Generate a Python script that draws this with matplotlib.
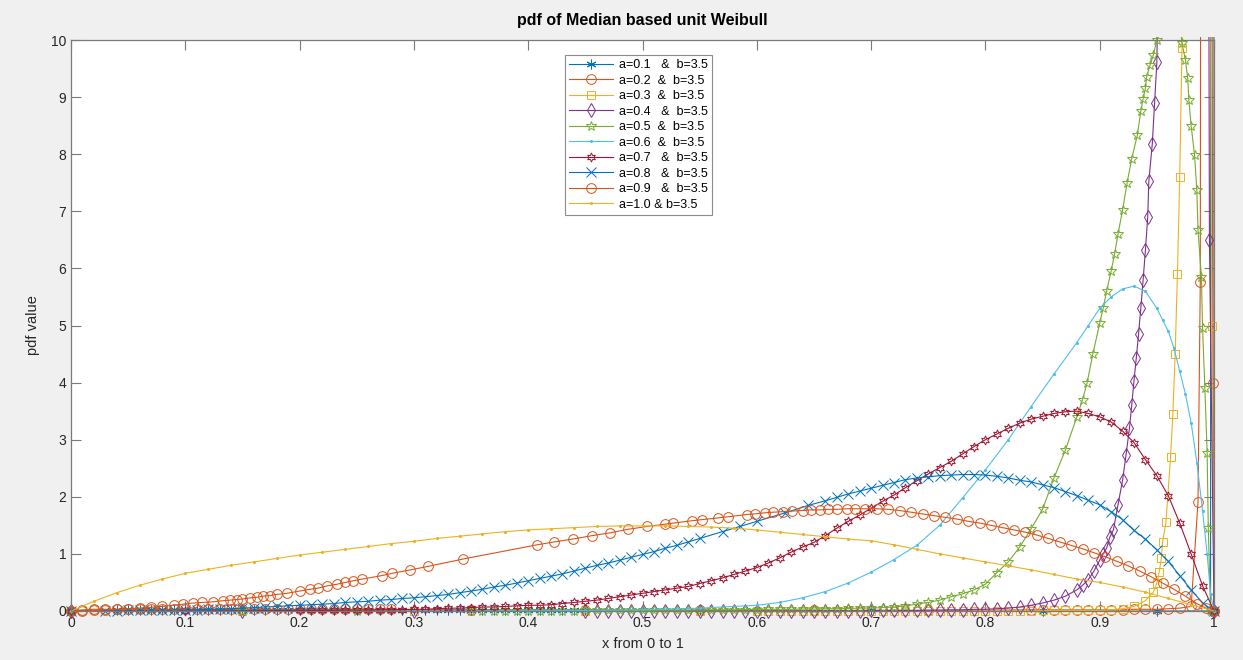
import matplotlib
matplotlib.use("Agg")
import matplotlib.pyplot as plt
from matplotlib.patches import Rectangle

# ---- data (x in [0,1], pdf value) ----
x01 = [0.0,
       0.04, 0.05, 0.06, 0.07, 0.08, 0.09, 0.10, 0.11, 0.12, 0.13,
       0.14, 0.15, 0.16, 0.17, 0.18, 0.19, 0.20, 0.21, 0.22, 0.23,
       0.24, 0.25, 0.26, 0.27, 0.28, 0.29, 0.30, 0.31, 0.32, 0.33,
       0.34, 0.35, 0.36, 0.37, 0.38, 0.39, 0.40, 0.41, 0.42, 0.43,
       0.44, 0.45,
       0.55, 0.70, 0.85, 0.95, 0.997, 0.9993, 1.0]
y01 = [0.0,
       0.01, 0.01, 0.01, 0.01, 0.02, 0.02, 0.02, 0.02, 0.02, 0.02,
       0.02, 0.02, 0.02, 0.02, 0.02, 0.02, 0.02, 0.02, 0.02, 0.02,
       0.02, 0.02, 0.02, 0.02, 0.02, 0.02, 0.02, 0.02, 0.02, 0.02,
       0.02, 0.02, 0.02, 0.02, 0.02, 0.02, 0.02, 0.02, 0.02, 0.02,
       0.02, 0.02,
       0.01, 0.01, 0.0, 0.0, 0.0, 250.0, 0.0]

x02 = [0.0, 0.01, 0.02, 0.03, 0.04, 0.05, 0.06, 0.07, 0.08, 0.09,
       0.10, 0.11, 0.12, 0.13, 0.14, 0.15, 0.16, 0.17, 0.18, 0.19,
       0.20, 0.21, 0.22, 0.23, 0.24, 0.25, 0.26, 0.27, 0.28,
       0.35, 0.45, 0.55, 0.65, 0.75,
       0.84, 0.85, 0.86, 0.87, 0.88, 0.89, 0.90, 0.91, 0.92, 0.93,
       0.94, 0.95, 0.96, 0.97, 0.98,
       0.986, 0.988, 0.992, 0.999, 1.0]
y02 = [0.0, 0.02, 0.03, 0.03, 0.03, 0.03, 0.03, 0.03, 0.03, 0.03,
       0.03, 0.03, 0.03, 0.03, 0.03, 0.03, 0.03, 0.03, 0.03, 0.03,
       0.03, 0.03, 0.03, 0.03, 0.03, 0.03, 0.03, 0.03, 0.03,
       0.01, 0.01, 0.01, 0.01, 0.01,
       0.02, 0.02, 0.02, 0.02, 0.02, 0.02, 0.02, 0.02, 0.02, 0.03,
       0.03, 0.03, 0.04, 0.05, 0.08,
       1.91, 5.76, 80.0, 4.0, 0.0]

x03 = [0.0, 0.15, 0.30, 0.45, 0.55,
       0.60, 0.61, 0.62, 0.63, 0.64, 0.65, 0.66, 0.67, 0.68, 0.69,
       0.70, 0.71, 0.72, 0.73, 0.74, 0.75, 0.76, 0.77, 0.78, 0.79,
       0.80, 0.81, 0.82, 0.83, 0.84, 0.85, 0.86, 0.87, 0.88, 0.89,
       0.90, 0.91, 0.92, 0.93, 0.94,
       0.947, 0.950, 0.952, 0.954, 0.955, 0.958, 0.962, 0.964, 0.966, 0.968,
       0.970, 0.972, 0.985, 0.998, 1.0]
y03 = [0.0, 0.0, 0.0, 0.0, 0.0,
       0.0, 0.0, 0.0, 0.0, 0.0, 0.0, 0.0, 0.0, 0.0, 0.0,
       0.0, 0.0, 0.0, 0.0, 0.0, 0.0, 0.0, 0.0, 0.0, 0.0,
       0.005, 0.005, 0.005, 0.005, 0.005, 0.01, 0.01, 0.01, 0.01, 0.01,
       0.01, 0.02, 0.04, 0.08, 0.18,
       0.33, 0.49, 0.68, 0.93, 1.21, 1.56, 2.7, 3.45, 4.5, 5.9,
       7.6, 9.86, 100.0, 5.0, 0.0]

x04 = [0.0, 0.15, 0.30,
       0.45, 0.46, 0.47, 0.48, 0.49, 0.50, 0.51, 0.52, 0.53, 0.54,
       0.55, 0.56, 0.57, 0.58, 0.59, 0.60, 0.61, 0.62, 0.63, 0.64,
       0.65, 0.66, 0.67, 0.68, 0.69, 0.70, 0.71, 0.72, 0.73, 0.74,
       0.75, 0.76, 0.77, 0.78,
       0.79, 0.80, 0.81, 0.82, 0.83, 0.84, 0.85, 0.86, 0.87, 0.88,
       0.885, 0.89, 0.895, 0.900, 0.903, 0.906, 0.909, 0.912, 0.916, 0.920,
       0.923, 0.926, 0.928, 0.930, 0.932, 0.934, 0.936, 0.938, 0.940, 0.942,
       0.943, 0.946, 0.948, 0.950, 0.99, 0.996, 1.0]
y04 = [0.0, 0.0, 0.0,
       0.0, 0.0, 0.0, 0.0, 0.0, 0.0, 0.0, 0.0, 0.0, 0.0,
       0.0, 0.0, 0.0, 0.0, 0.0, 0.0, 0.0, 0.0, 0.0, 0.0,
       0.005, 0.005, 0.005, 0.005, 0.005, 0.01, 0.01, 0.01, 0.01, 0.01,
       0.015, 0.015, 0.02, 0.02,
       0.03, 0.03, 0.04, 0.05, 0.07, 0.10, 0.14, 0.19, 0.26, 0.37,
       0.45, 0.55, 0.70, 0.89, 1.0, 1.1, 1.3, 1.42, 1.86, 2.29,
       2.73, 3.2, 3.6, 4.03, 4.43, 4.85, 5.31, 5.80, 6.32, 6.9,
       7.53, 8.18, 8.89, 9.61, 60.0, 6.5, 0.0]

x05 = [0.0, 0.15, 0.25,
       0.35, 0.36, 0.37, 0.38, 0.39, 0.40, 0.41, 0.42, 0.43, 0.44,
       0.45, 0.46, 0.47, 0.48, 0.49,
       0.50, 0.51, 0.52, 0.53, 0.54, 0.55, 0.56, 0.57, 0.58, 0.59,
       0.60, 0.61, 0.62, 0.63, 0.64, 0.65, 0.66, 0.67, 0.68, 0.69, 0.70,
       0.71, 0.72, 0.73, 0.74, 0.75, 0.76, 0.77, 0.78, 0.79, 0.80,
       0.81, 0.82, 0.83, 0.84, 0.85, 0.86, 0.87, 0.88,
       0.885, 0.889, 0.894, 0.900, 0.903, 0.906, 0.910, 0.913, 0.916, 0.920,
       0.924, 0.928, 0.933, 0.936, 0.938, 0.940, 0.941, 0.944, 0.947, 0.950,
       0.961, 0.972, 0.975, 0.977, 0.978, 0.980, 0.983, 0.985, 0.986, 0.989,
       0.990, 0.992, 0.994, 0.995, 0.997, 1.0]
y05 = [0.0, 0.0, 0.0,
       0.0, 0.0, 0.0, 0.0, 0.0, 0.0, 0.005, 0.005, 0.005, 0.005,
       0.01, 0.01, 0.01, 0.01, 0.01,
       0.01, 0.01, 0.015, 0.015, 0.015, 0.02, 0.02, 0.02, 0.02, 0.025,
       0.025, 0.03, 0.03, 0.03, 0.035, 0.035, 0.04, 0.04, 0.045, 0.05, 0.05,
       0.06, 0.07, 0.09, 0.12, 0.15, 0.19, 0.25, 0.30, 0.37, 0.47,
       0.67, 0.86, 1.12, 1.44, 1.78, 2.33, 2.82, 3.4,
       3.7, 4.0, 4.5, 5.04, 5.3, 5.6, 5.95, 6.25, 6.6, 7.02,
       7.5, 7.92, 8.34, 8.76, 8.97, 9.16, 9.35, 9.56, 9.74, 10.0,
       12.0, 9.95, 9.65, 9.33, 8.95, 8.5, 7.98, 7.37, 6.67, 5.85,
       4.96, 3.9, 2.77, 1.45, 0.0, 0.0]

x06 = [0.0, 0.1, 0.2, 0.3, 0.35, 0.4, 0.45, 0.5, 0.55, 0.6,
       0.62, 0.64, 0.66, 0.68, 0.70, 0.72, 0.74, 0.76, 0.78, 0.80,
       0.82, 0.84, 0.86, 0.88, 0.89, 0.90, 0.91, 0.92, 0.93, 0.94,
       0.95, 0.955, 0.96, 0.965, 0.97, 0.975, 0.98, 0.985, 0.99, 0.994,
       0.997, 1.0]
y06 = [0.0, 0.0, 0.0, 0.0, 0.0, 0.005, 0.01, 0.02, 0.05, 0.1,
       0.15, 0.23, 0.34, 0.49, 0.68, 0.9, 1.15, 1.5, 1.98, 2.47,
       3.0, 3.58, 4.15, 4.7, 5.0, 5.3, 5.5, 5.64, 5.69, 5.6,
       5.3, 5.1, 4.9, 4.6, 4.2, 3.8, 3.3, 2.6, 1.75, 1.0,
       0.3, 0.0]

x07 = [0.0, 0.1,
       0.20, 0.21, 0.22, 0.23, 0.24, 0.25, 0.26, 0.27, 0.28, 0.29,
       0.30, 0.31, 0.32, 0.33, 0.34, 0.35, 0.36, 0.37, 0.38, 0.39,
       0.40, 0.41, 0.42, 0.43, 0.44, 0.45, 0.46, 0.47, 0.48, 0.49,
       0.50, 0.51, 0.52, 0.53, 0.54, 0.55, 0.56, 0.57, 0.58, 0.59,
       0.60, 0.61, 0.62, 0.63, 0.64, 0.65, 0.66, 0.67, 0.68, 0.69,
       0.70, 0.71, 0.72, 0.73, 0.74, 0.75, 0.76, 0.77, 0.78, 0.79,
       0.80, 0.81, 0.82, 0.83, 0.84, 0.85, 0.86, 0.87, 0.88, 0.89,
       0.90, 0.91, 0.92, 0.93, 0.94, 0.95, 0.96, 0.97, 0.98, 0.99,
       1.0]
y07 = [0.0, 0.0,
       0.01, 0.01, 0.01, 0.01, 0.015, 0.015, 0.015, 0.02, 0.02, 0.025,
       0.03, 0.03, 0.04, 0.05, 0.05, 0.06, 0.07, 0.07, 0.08, 0.09,
       0.10, 0.10, 0.11, 0.13, 0.15, 0.17, 0.19, 0.22, 0.25, 0.28,
       0.31, 0.34, 0.37, 0.40, 0.43, 0.48, 0.53, 0.58, 0.64, 0.70,
       0.76, 0.84, 0.93, 1.03, 1.12, 1.20, 1.32, 1.45, 1.57, 1.68,
       1.80, 1.92, 2.03, 2.16, 2.28, 2.40, 2.51, 2.62, 2.75, 2.88,
       3.00, 3.10, 3.20, 3.29, 3.36, 3.41, 3.46, 3.49, 3.50, 3.46,
       3.40, 3.31, 3.15, 2.95, 2.65, 2.37, 2.02, 1.54, 1.00, 0.44,
       0.0]

x08 = [0.0,
       0.03, 0.04, 0.05, 0.06, 0.07, 0.08, 0.09, 0.10, 0.11, 0.12,
       0.13, 0.14, 0.15, 0.16, 0.17, 0.18, 0.19, 0.20, 0.21, 0.22,
       0.23, 0.24, 0.25, 0.26, 0.27, 0.28, 0.29, 0.30, 0.31, 0.32,
       0.33, 0.34, 0.35, 0.36, 0.37, 0.38, 0.39, 0.40, 0.41, 0.42,
       0.43, 0.44, 0.45, 0.46, 0.47, 0.48, 0.49, 0.50, 0.51, 0.52,
       0.53, 0.54, 0.55,
       0.57, 0.585, 0.60, 0.625, 0.645,
       0.66, 0.67, 0.68, 0.69, 0.70, 0.71, 0.72, 0.73, 0.74, 0.75,
       0.76, 0.77, 0.78, 0.79, 0.80, 0.81, 0.82, 0.83, 0.84, 0.85,
       0.86, 0.87, 0.88, 0.89, 0.90, 0.91, 0.92, 0.93, 0.94, 0.95,
       0.96, 0.97, 0.98, 0.99,
       1.0]
y08 = [0.0,
       0.0, 0.0, 0.01, 0.01, 0.01, 0.01, 0.02, 0.02, 0.02, 0.03,
       0.03, 0.04, 0.05, 0.06, 0.07, 0.08, 0.09, 0.10, 0.11, 0.12,
       0.13, 0.15, 0.16, 0.17, 0.19, 0.20, 0.22, 0.23, 0.25, 0.27,
       0.29, 0.32, 0.35, 0.38, 0.42, 0.45, 0.49, 0.53, 0.57, 0.61,
       0.65, 0.70, 0.75, 0.80, 0.84, 0.89, 0.94, 0.99, 1.04, 1.10,
       1.15, 1.21, 1.27,
       1.39, 1.48, 1.57, 1.72, 1.85,
       1.93, 1.99, 2.05, 2.10, 2.15, 2.20, 2.25, 2.30, 2.33, 2.35,
       2.37, 2.38, 2.39, 2.39, 2.38, 2.36, 2.33, 2.29, 2.26, 2.21,
       2.16, 2.09, 2.02, 1.94, 1.86, 1.74, 1.60, 1.41, 1.26, 1.07,
       0.87, 0.62, 0.37, 0.14,
       0.0]

x09 = [0.0, 0.01, 0.02, 0.03, 0.04, 0.05, 0.06, 0.07, 0.08, 0.09,
       0.098, 0.107, 0.115, 0.124, 0.133, 0.139, 0.145, 0.150, 0.157, 0.163,
       0.168, 0.174, 0.180, 0.189, 0.200, 0.209, 0.216, 0.224, 0.233, 0.240,
       0.247, 0.255, 0.272, 0.281, 0.297, 0.312, 0.343, 0.408, 0.423, 0.439,
       0.456, 0.472, 0.487, 0.504, 0.520, 0.527, 0.543, 0.552, 0.566, 0.575,
       0.591, 0.598, 0.607, 0.614, 0.623, 0.631, 0.640, 0.647, 0.655, 0.662,
       0.670, 0.679, 0.686, 0.695, 0.705, 0.715, 0.725, 0.735, 0.745, 0.755,
       0.765, 0.775, 0.785, 0.795, 0.805, 0.815, 0.825, 0.835, 0.845, 0.855,
       0.865, 0.875, 0.885, 0.895, 0.905, 0.915, 0.925, 0.935, 0.945, 0.955,
       0.965, 0.975, 0.985, 0.993, 1.0]
y09 = [0.0, 0.005, 0.01, 0.02, 0.03, 0.04, 0.05, 0.065, 0.08, 0.10,
       0.12, 0.14, 0.15, 0.16, 0.18, 0.19, 0.20, 0.21, 0.23, 0.24,
       0.26, 0.27, 0.29, 0.31, 0.35, 0.38, 0.40, 0.44, 0.47, 0.50,
       0.53, 0.56, 0.62, 0.66, 0.72, 0.78, 0.91, 1.16, 1.21, 1.26,
       1.32, 1.37, 1.43, 1.48, 1.52, 1.54, 1.58, 1.60, 1.63, 1.65,
       1.69, 1.70, 1.72, 1.73, 1.74, 1.75, 1.76, 1.77, 1.77, 1.78,
       1.78, 1.79, 1.79, 1.79, 1.79, 1.78, 1.76, 1.73, 1.70, 1.67,
       1.64, 1.61, 1.57, 1.54, 1.50, 1.46, 1.42, 1.38, 1.33, 1.27,
       1.21, 1.15, 1.09, 1.02, 0.95, 0.87, 0.79, 0.70, 0.60, 0.49,
       0.38, 0.26, 0.13, 0.05, 0.0]

x10 = [0.0, 0.02, 0.04, 0.06, 0.08, 0.10, 0.12, 0.14, 0.16, 0.18,
       0.20, 0.22, 0.24, 0.26, 0.28, 0.30, 0.32, 0.34, 0.36, 0.38,
       0.40, 0.42, 0.44, 0.46, 0.48, 0.50, 0.52, 0.54, 0.56, 0.58,
       0.60, 0.62, 0.64, 0.66, 0.68, 0.70, 0.72, 0.74, 0.76, 0.78,
       0.80, 0.82, 0.84, 0.86, 0.88, 0.90, 0.92, 0.94, 0.96, 0.98,
       1.0]
y10 = [0.0, 0.17, 0.32, 0.45, 0.56, 0.66, 0.73, 0.80, 0.86, 0.92,
       0.98, 1.03, 1.08, 1.13, 1.18, 1.22, 1.27, 1.31, 1.35, 1.39,
       1.42, 1.44, 1.46, 1.48, 1.49, 1.49, 1.49, 1.48, 1.47, 1.45,
       1.42, 1.38, 1.34, 1.30, 1.26, 1.23, 1.16, 1.08, 1.00, 0.93,
       0.86, 0.79, 0.72, 0.64, 0.56, 0.50, 0.42, 0.33, 0.22, 0.11,
       0.0]

labels = ['a=0.1   &  b=3.5', 'a=0.2  &  b=3.5', 'a=0.3  &  b=3.5',
          'a=0.4   &  b=3.5', 'a=0.5  &  b=3.5', 'a=0.6  &  b=3.5',
          'a=0.7   &  b=3.5', 'a=0.8   &  b=3.5', 'a=0.9   &  b=3.5',
          'a=1.0 & b=3.5']
xticks = [0, 0.1, 0.2, 0.3, 0.4, 0.5, 0.6, 0.7, 0.8, 0.9, 1]
xticklabels = ['0', '0.1', '0.2', '0.3', '0.4', '0.5', '0.6', '0.7', '0.8', '0.9', '1']
yticks = [0, 1, 2, 3, 4, 5, 6, 7, 8, 9, 10]

# matlab default colour order and marker set
colors = ['#0072BD', '#D95319', '#EDB120', '#7E2F8E', '#77AC30',
          '#4DBEEE', '#A2142F', '#0072BD', '#D95319', '#EDB120']
markers = [(6, 2, 0), 'o', 's', 'd', '*', '.', (6, 1, 0), 'x', 'o', '.']
msizes = [7, 7, 6, 7, 7, 3, 6.5, 6.5, 7, 3]
xs = [x01, x02, x03, x04, x05, x06, x07, x08, x09, x10]
ys = [y01, y02, y03, y04, y05, y06, y07, y08, y09, y10]

plt.rcParams['font.family'] = ['Liberation Sans', 'DejaVu Sans']

fig = plt.figure(figsize=(12.43, 6.6), dpi=100, facecolor='#F0F0F0')
ax = fig.add_axes([71 / 1243, 49 / 660, 1143 / 1243, 571 / 660])
ax.set_facecolor('white')

for x, y, lab, c, m, ms in zip(xs, ys, labels, colors, markers, msizes):
    face = c if m == '.' else 'none'
    ln, = ax.plot(x, y, color=c, lw=0.8, marker=m, ms=ms, mfc=face,
                  mec=c, mew=0.7, label=lab)
    # let markers spill a little below the x axis like matlab does
    ln.set_clip_path(Rectangle((-0.012, -0.03), 1.024, 1.035,
                               transform=ax.transAxes))

ax.set_xlim(0, 1)
ax.set_ylim(0, 10)
ax.set_xticks(xticks)
ax.set_xticklabels(xticklabels)
ax.set_yticks(yticks)
ax.tick_params(direction='in', top=True, right=True, length=7, width=0.8,
               color='#7a7a7a', labelcolor='#262626', labelsize=10)
for sp in ax.spines.values():
    sp.set_color('#7a7a7a')
    sp.set_linewidth(0.9)

ax.set_title('pdf of Median based unit Weibull', fontsize=11.5,
             fontweight='bold', pad=11)
ax.set_xlabel('x from 0 to 1', fontsize=10.5, color='#262626', labelpad=5)
ax.set_ylabel('pdf value', fontsize=10.5, color='#262626', labelpad=8)

leg = ax.legend(loc='upper left', bbox_to_anchor=(0.432, 0.974),
                borderaxespad=0, fontsize=9, numpoints=1,
                handlelength=3.5, labelspacing=0.28, handletextpad=0.5,
                borderpad=0.35, fancybox=False, framealpha=1,
                edgecolor='#8c8c8c')
leg.get_frame().set_linewidth(0.8)

fig.savefig('out.png', dpi=100, facecolor=fig.get_facecolor())
